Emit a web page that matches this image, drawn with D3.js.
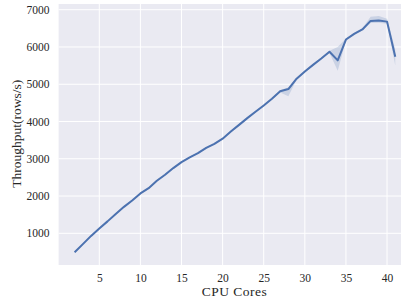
<!DOCTYPE html>
<html>
<head>
<meta charset="utf-8">
<script src="https://cdn.jsdelivr.net/npm/d3@7"></script>
<style>
  body { margin: 0; background: #fff; }
  text { font-family: "Liberation Serif", "DejaVu Serif", serif; fill: #262626; }
</style>
</head>
<body>
<div class="chart"></div>
<script>
// CHART SIZE
var w = 401
var h = 299

// DATA
var cores = [2,3,4,5,6,7,8,9,10,11,12,13,14,15,16,17,18,19,20,21,
             22,23,24,25,26,27,28,29,30,31,32,33,34,35,36,37,38,39,40,41]
var throughput = [490,710,930,1130,1320,1520,1710,1880,2070,2210,2410,2570,2750,2910,3040,3150,3290,3400,3540,3730,
                  3910,4090,4260,4430,4610,4810,4870,5150,5340,5520,5690,5870,5640,6200,6350,6470,6700,6710,6680,5740]
var bandLow  = [470,690,910,1110,1300,1500,1690,1860,2050,2190,2390,2550,2730,2890,3020,3130,3270,3380,3520,3710,
                3890,4070,4240,4410,4590,4780,4680,5120,5310,5500,5670,5840,5360,6170,6320,6440,6640,6650,6620,5500]
var bandHigh = [510,730,950,1150,1340,1540,1730,1900,2090,2230,2430,2590,2770,2930,3060,3170,3310,3420,3560,3750,
                3930,4110,4280,4450,4630,4840,4920,5180,5370,5540,5710,5900,6000,6230,6380,6500,6810,6830,6760,5930]
var xTicks = [5,10,15,20,25,30,35,40]
var yTicks = [1000,2000,3000,4000,5000,6000,7000]

var data = cores.map(function(c, i){
    return {x: c, y: throughput[i], lo: bandLow[i], hi: bandHigh[i]}
})

var svg = d3.select(".chart").append('svg')
    .attr('width', w)
    .attr('height', h)

// SCALES (axes run a little past the right edge of the picture)
var x = d3.scaleLinear().domain([0.05, 42.95]).range([58.6, 411.3])
var y = d3.scaleLinear().domain([149.5, 7153]).range([265, 4])

// BACKGROUND + GRID
svg.append('rect')
    .attr('x', x.range()[0]).attr('y', y.range()[1])
    .attr('width', x.range()[1] - x.range()[0])
    .attr('height', y.range()[0] - y.range()[1])
    .attr('fill', '#eaeaf2')

var grid = svg.append('g')
grid.selectAll('.vx').data(xTicks).enter().append('line')
    .attr('x1', function(d){ return x(d) }).attr('x2', function(d){ return x(d) })
    .attr('y1', y.range()[0]).attr('y2', y.range()[1])
    .attr('stroke', '#fff').attr('stroke-width', 1)
grid.selectAll('.hy').data(yTicks).enter().append('line')
    .attr('y1', function(d){ return y(d) }).attr('y2', function(d){ return y(d) })
    .attr('x1', x.range()[0]).attr('x2', x.range()[1])
    .attr('stroke', '#fff').attr('stroke-width', 1)

// AXES (no domain line, no tick marks, just labels)
var xAxis = svg.append('g')
    .attr('transform', 'translate(0,' + y.range()[0] + ')')
    .call(d3.axisBottom(x).tickValues(xTicks).tickSize(0).tickPadding(9))
var yAxis = svg.append('g')
    .attr('transform', 'translate(' + x.range()[0] + ',0)')
    .call(d3.axisLeft(y).tickValues(yTicks).tickSize(0).tickPadding(9).tickFormat(d3.format('d')))
svg.selectAll('.domain').remove()
svg.selectAll('.tick text')
    .style('font-family', '"Liberation Serif", "DejaVu Serif", serif')
    .style('font-size', '11.5px')
    .attr('fill', '#262626')

// CONFIDENCE BAND + LINE
var area = d3.area()
    .x(function(d){ return x(d.x) })
    .y0(function(d){ return y(d.lo) })
    .y1(function(d){ return y(d.hi) })
svg.append('path').datum(data)
    .attr('d', area)
    .attr('fill', '#4c72b0')
    .attr('fill-opacity', 0.2)

var line = d3.line()
    .x(function(d){ return x(d.x) })
    .y(function(d){ return y(d.y) })
svg.append('path').datum(data)
    .attr('d', line)
    .attr('fill', 'none')
    .attr('stroke', '#4c72b0')
    .attr('stroke-width', 2)
    .attr('stroke-linejoin', 'round')

// AXIS TITLES
svg.append('text')
    .attr('x', 234.5).attr('y', 295.5)
    .attr('text-anchor', 'middle')
    .style('font-size', '13.5px')
    .style('letter-spacing', '0.5px')
    .text('CPU Cores')
svg.append('text')
    .attr('transform', 'translate(20.5,133.7) rotate(-90)')
    .attr('text-anchor', 'middle')
    .style('font-size', '13.5px')
    .text('Throughput(rows/s)')
</script>
</body>
</html>
